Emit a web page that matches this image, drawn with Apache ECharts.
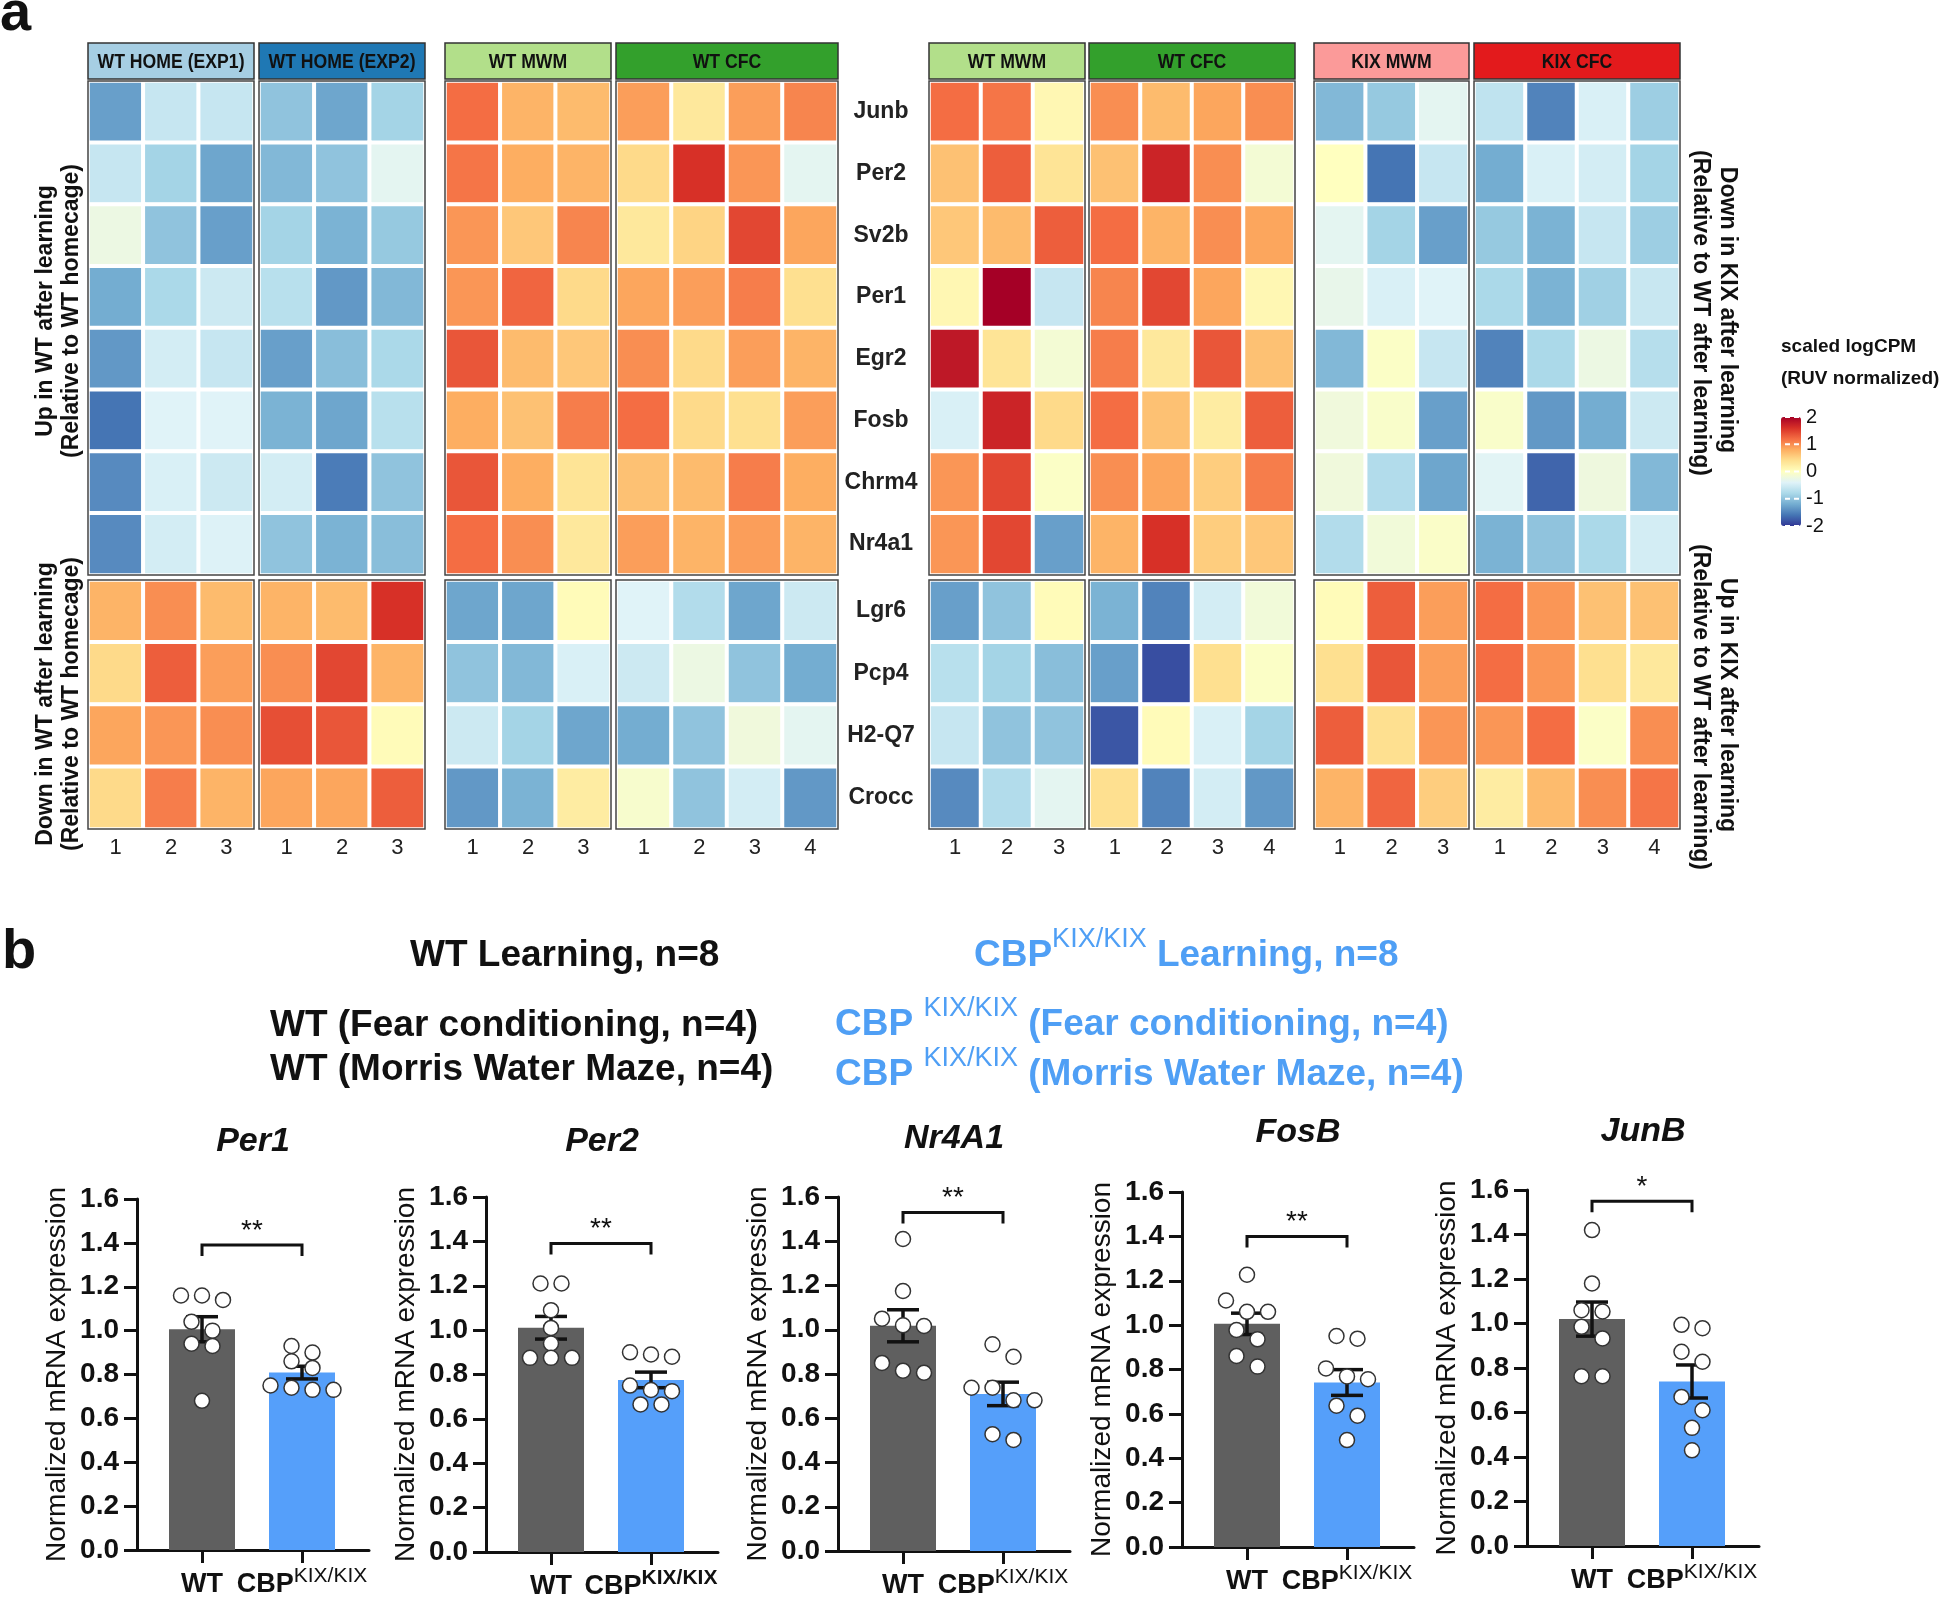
<!DOCTYPE html>
<html><head><meta charset="utf-8">
<script src="https://cdn.jsdelivr.net/npm/echarts@6/dist/echarts.min.js"></script>
<style>html,body{margin:0;padding:0;background:#fff}#c{width:1946px;height:1600px}</style>
</head><body><div id="c"></div>
<script>
// ---------------- DATA ----------------
const genesUp = ['Junb','Per2','Sv2b','Per1','Egr2','Fosb','Chrm4','Nr4a1'];
const genesDown = ['Lgr6','Pcp4','H2-Q7','Crocc'];
const samples3 = ['1','2','3'];
const samples4 = ['1','2','3','4'];
const groupNames = ['WT HOME (EXP1)','WT HOME (EXP2)','WT MWM','WT CFC','WT MWM','WT CFC','KIX MWM','KIX CFC'];
const legendTicks = [2,1,0,-1,-2];

// rows: Junb, Per2, Sv2b, Per1, Egr2, Fosb, Chrm4, Nr4a1, Lgr6, Pcp4, H2-Q7, Crocc
const wtHome1 = [
 [-1.3,-0.6,-0.6],[-0.6,-0.85,-1.25],[-0.25,-1.0,-1.3],[-1.2,-0.8,-0.55],
 [-1.35,-0.5,-0.6],[-1.6,-0.4,-0.4],[-1.45,-0.45,-0.55],[-1.45,-0.5,-0.42],
 [0.75,1.0,0.7],[0.45,1.3,0.9],[0.85,0.95,1.0],[0.45,1.1,0.75]];
const wtHome2 = [
 [-1.0,-1.25,-0.85],[-1.1,-1.0,-0.35],[-0.85,-1.15,-0.95],[-0.7,-1.35,-1.1],
 [-1.3,-1.05,-0.8],[-1.15,-1.25,-0.7],[-0.5,-1.55,-1.0],[-1.0,-1.15,-1.05],
 [0.75,0.7,1.6],[1.0,1.45,0.75],[1.4,1.35,0.05],[0.85,0.85,1.3]];
const wtMwmA = [
 [1.2,0.75,0.7],[1.15,0.8,0.75],[0.95,0.6,1.05],[0.95,1.25,0.45],
 [1.35,0.7,0.6],[0.8,0.65,1.1],[1.35,0.8,0.35],[1.2,1.0,0.3],
 [-1.25,-1.25,0.05],[-1.0,-1.1,-0.45],[-0.55,-0.85,-1.25],[-1.35,-1.15,0.25]];
const wtCfcA = [
 [0.9,0.3,0.9,1.05],[0.45,1.6,0.95,-0.35],[0.3,0.5,1.45,0.85],[0.85,0.9,1.1,0.4],
 [1.0,0.45,0.9,0.75],[1.2,0.45,0.4,0.9],[0.65,0.7,1.1,0.8],[0.9,0.75,0.9,0.75],
 [-0.4,-0.75,-1.25,-0.55],[-0.55,-0.25,-1.0,-1.2],[-1.2,-1.0,-0.2,-0.35],[-0.1,-1.0,-0.5,-1.35]];
const wtMwmB = [
 [1.2,1.15,0.1],[0.65,1.3,0.35],[0.6,0.7,1.3],[0.1,2.0,-0.6],
 [1.8,0.35,-0.15],[-0.45,1.7,0.45],[0.95,1.45,-0.05],[0.95,1.45,-1.3],
 [-1.3,-1.0,0.05],[-0.7,-0.85,-1.05],[-0.6,-1.0,-1.0],[-1.45,-0.75,-0.35]];
const wtCfcB = [
 [1.0,0.7,0.85,1.0],[0.65,1.7,1.0,-0.15],[1.2,0.75,1.0,0.85],[1.05,1.45,0.85,0.1],
 [1.1,0.3,1.35,0.65],[1.2,0.65,0.25,1.3],[1.0,0.85,0.55,1.1],[0.75,1.6,0.55,0.6],
 [-1.15,-1.5,-0.5,-0.18],[-1.3,-1.85,0.4,-0.05],[-1.8,0.05,-0.45,-0.85],[0.4,-1.5,-0.5,-1.35]];
const kixMwm = [
 [-1.1,-0.95,-0.35],[0.0,-1.6,-0.6],[-0.35,-0.85,-1.3],[-0.3,-0.45,-0.4],
 [-1.1,-0.05,-0.6],[-0.2,-0.08,-1.3],[-0.2,-0.75,-1.25],[-0.75,-0.18,-0.06],
 [0.05,1.3,0.9],[0.4,1.35,0.9],[1.3,0.4,0.95],[0.75,1.25,0.55]];
const kixCfc = [
 [-0.65,-1.5,-0.45,-0.9],[-1.2,-0.45,-0.5,-0.85],[-0.95,-1.15,-0.6,-0.9],[-0.8,-1.15,-0.88,-0.58],
 [-1.5,-0.8,-0.25,-0.72],[-0.08,-1.35,-1.2,-0.55],[-0.38,-1.7,-0.22,-1.1],[-1.15,-1.0,-0.8,-0.5],
 [1.2,0.95,0.65,0.65],[1.2,0.95,0.4,0.3],[0.95,1.2,-0.05,1.0],[0.25,0.7,1.0,1.15]];

const barGenes = ['Per1','Per2','Nr4A1','FosB','JunB'];
const barGroups = ['WT','CBP'];
const per1WT  = [1.16,1.16,1.14,1.04,1.00,0.94,0.93,0.68];
const per1KIX = [0.93,0.90,0.86,0.83,0.73,0.75,0.73,0.74];
const per2WT  = [1.21,1.21,1.09,1.01,0.94,0.875,0.875,0.875];
const per2KIX = [0.90,0.88,0.89,0.75,0.73,0.725,0.665,0.665];
const nr4a1WT  = [1.41,1.175,1.02,1.05,1.017,0.85,0.806,0.815];
const nr4a1KIX = [0.934,0.878,0.738,0.738,0.681,0.681,0.502,0.528];
const fosbWT  = [1.227,1.111,1.06,1.06,0.978,0.936,0.861,0.813];
const fosbKIX = [0.939,0.951,0.769,0.805,0.756,0.637,0.592,0.482];
const junbWT  = [1.42,1.18,1.054,1.06,0.985,0.933,0.763,0.763];
const junbKIX = [0.979,0.994,0.873,0.828,0.67,0.61,0.531,0.43];
const sigLabels = ['**','**','**','**','*'];
const bracketY = [1.39,1.39,1.53,1.40,1.55];

// ---------------- LAYOUT / STYLE ----------------
const FF = 'Liberation Sans, Arial, Helvetica, sans-serif';
const PANEL_X = [[88,254],[259,425],[445,611],[616,838],[929,1085],[1089,1295],[1314,1469],[1474,1680]];
const HEAD_COLORS = ['#a6cee3','#1f78b4','#b2df8a','#33a02c','#b2df8a','#33a02c','#fb9a99','#e31a1c'];
const BLOCK_Y = [[81,575],[580,829]];
const HEAD_Y = [43,79];
const RDYLBU = ['#313695','#4575b4','#74add1','#abd9e9','#e0f3f8','#ffffbf','#fee090','#fdae61','#f46d43','#d73027','#a50026'];
const BAR_LAYOUT = [
 {ax:137,top:1199,zero:1550,ty:1142},
 {ax:486,top:1197,zero:1552,ty:1142},
 {ax:838,top:1197,zero:1551,ty:1139},
 {ax:1182,top:1192,zero:1547,ty:1133},
 {ax:1527,top:1190,zero:1546,ty:1132}];
const BLUE = '#559ffa', GRAY = '#5f5f5f', TXTBLUE = '#4f9ff5';

const grids=[], xAxes=[], yAxes=[], series=[], graphics=[];
function T(text, x, y, size, o) {
  o = o || {};
  return {type:'text', x:x, y:y, rotation:o.rot||0, scaleX:o.sx||1, z:o.z||150, silent:true,
    style:{text:text, fill:o.color||'#111', fontSize:size, fontWeight:o.weight||'bold',
      fontStyle:o.style||'normal', fontFamily:FF, align:o.align||'center', verticalAlign:'middle', rich:o.rich}};
}

// ---------------- HEATMAPS ----------------
const hmData = [wtHome1, wtHome2, wtMwmA, wtCfcA, wtMwmB, wtCfcB, kixMwm, kixCfc];
const hmSeriesIdx = [];
hmData.forEach((mat, p) => {
  const cats = mat[0].length === 3 ? samples3 : samples4;
  const [x0, x1] = PANEL_X[p];
  [0,1].forEach(b => {
    const rows = b === 0 ? mat.slice(0, 8) : mat.slice(8);
    const genes = b === 0 ? genesUp : genesDown;
    const [y0, y1] = BLOCK_Y[b];
    const gi = grids.length;
    grids.push({left:x0, top:y0, width:x1-x0, height:y1-y0, outerBoundsMode:'none'});
    const xi = xAxes.length;
    xAxes.push({type:'category', gridIndex:gi, data:cats, axisLine:{show:false}, axisTick:{show:false},
      splitLine:{show:false}, axisLabel:{show:b===1, interval:0, fontSize:22, color:'#222', margin:8, fontFamily:FF}});
    const yi = yAxes.length;
    yAxes.push({type:'category', gridIndex:gi, data:genes, inverse:true, axisLine:{show:false}, axisTick:{show:false},
      splitLine:{show:false},
      axisLabel:{show:p===4, interval:0, align:'center', margin:48, fontSize:23, fontWeight:'bold', color:'#222', fontFamily:FF}});
    hmSeriesIdx.push(series.length);
    series.push({type:'heatmap', xAxisIndex:xi, yAxisIndex:yi, silent:true,
      data: rows.flatMap((r, ri) => r.map((v, ci) => [ci, ri, v])),
      itemStyle:{borderColor:'#fff', borderWidth:4}, emphasis:{disabled:true}});
    graphics.push({type:'rect', z:100, silent:true, shape:{x:x0, y:y0, width:x1-x0, height:y1-y0},
      style:{fill:'none', stroke:'#444', lineWidth:1.5}});
  });
  graphics.push({type:'rect', z:90, silent:true, shape:{x:x0, y:HEAD_Y[0], width:x1-x0, height:HEAD_Y[1]-HEAD_Y[0]},
    style:{fill:HEAD_COLORS[p], stroke:'#333', lineWidth:1.5}});
  graphics.push(T(groupNames[p], (x0+x1)/2, (HEAD_Y[0]+HEAD_Y[1])/2 + 1, 21, {z:160, sx:0.84}));
});

// side labels
graphics.push(T('Up in WT after learning', 46, 311, 23, {rot:Math.PI/2}));
graphics.push(T('(Relative to WT homecage)', 72, 311, 23, {rot:Math.PI/2}));
graphics.push(T('Down in WT after learning', 46, 704, 23, {rot:Math.PI/2}));
graphics.push(T('(Relative to WT homecage)', 72, 704, 23, {rot:Math.PI/2}));
graphics.push(T('Down in KIX after learning', 1727, 310, 23, {rot:-Math.PI/2}));
graphics.push(T('(Relative to WT after learning)', 1700, 313, 23, {rot:-Math.PI/2}));
graphics.push(T('Up in KIX after learning', 1727, 705, 23, {rot:-Math.PI/2}));
graphics.push(T('(Relative to WT after learning)', 1700, 707, 23, {rot:-Math.PI/2}));

// legend
const CB = {x:1781, y:413, w:20, h:117};
graphics.push(T('scaled logCPM', CB.x, 347, 19, {align:'left'}));
graphics.push(T('(RUV normalized)', CB.x, 379, 19, {align:'left'}));
legendTicks.forEach(v => {
  const yy = CB.y + 4 + (2 - v) / 4 * (CB.h - 8);
  graphics.push(T(String(v), CB.x + 25, yy, 20, {align:'left', weight:'normal'}));
  graphics.push({type:'line', z:120, silent:true, shape:{x1:CB.x+4, y1:yy, x2:CB.x+9, y2:yy}, style:{stroke:'#fff', lineWidth:2}});
  graphics.push({type:'line', z:120, silent:true, shape:{x1:CB.x+13, y1:yy, x2:CB.x+18, y2:yy}, style:{stroke:'#fff', lineWidth:2}});
});

// panel letters
graphics.push(T('a', 0, 15, 56, {align:'left'}));
graphics.push(T('b', 2, 953, 56, {align:'left'}));

// part b legend text
const supRich = (color) => ({
  a:{fontSize:37, fontWeight:'bold', fontFamily:FF, color:color, lineHeight:59},
  s:{fontSize:27, fontWeight:'normal', fontFamily:FF, color:color, lineHeight:27, verticalAlign:'top'}});
graphics.push(T('WT Learning, n=8', 410, 956, 37, {align:'left'}));
graphics.push(T('{a|CBP}{s|KIX/KIX}{a| Learning, n=8}', 974, 956, 37, {align:'left', color:TXTBLUE, rich:supRich(TXTBLUE)}));
graphics.push(T('WT (Fear conditioning, n=4)', 270, 1026, 37, {align:'left'}));
graphics.push(T('WT (Morris Water Maze, n=4)', 270, 1070, 37, {align:'left'}));
graphics.push(T('{a|CBP }{s|KIX/KIX}{a| (Fear conditioning, n=4)}', 835, 1025, 37, {align:'left', color:TXTBLUE, rich:supRich(TXTBLUE)}));
graphics.push(T('{a|CBP }{s|KIX/KIX}{a| (Morris Water Maze, n=4)}', 835, 1075, 37, {align:'left', color:TXTBLUE, rich:supRich(TXTBLUE)}));

// ---------------- BAR CHARTS ----------------
const barSets = [[per1WT, per1KIX],[per2WT, per2KIX],[nr4a1WT, nr4a1KIX],[fosbWT, fosbKIX],[junbWT, junbKIX]];
const mean = a => a.reduce((s, v) => s + v, 0) / a.length;
const sem = a => { const m = mean(a); return Math.sqrt(a.reduce((s, v) => s + (v-m)*(v-m), 0) / (a.length-1)) / Math.sqrt(a.length); };
function swarm(vals, gi, pxPerUnit) {
  const sorted = vals.slice().sort((a, b) => b - a);
  const rows = [];
  sorted.forEach(v => { const r = rows[rows.length-1]; if (r && (r[0]-v)*pxPerUnit < 14) r.push(v); else rows.push([v]); });
  const out = [];
  rows.forEach(r => r.forEach((v, i) => out.push([gi + (i - (r.length-1)/2) * 0.21, v])));
  return out;
}
function errItem(params, api) {
  const x = api.value(0), m = api.value(1), s = api.value(2);
  const t = api.coord([x, m + s]), b = api.coord([x, m - s]);
  const st = {stroke:'#111', lineWidth:3.5};
  return {type:'group', children:[
    {type:'line', shape:{x1:t[0], y1:t[1], x2:b[0], y2:b[1]}, style:st},
    {type:'line', shape:{x1:t[0]-16, y1:t[1], x2:t[0]+16, y2:t[1]}, style:st},
    {type:'line', shape:{x1:b[0]-16, y1:b[1], x2:b[0]+16, y2:b[1]}, style:st}]};
}
barSets.forEach((pair, k) => {
  const L = BAR_LAYOUT[k];
  const h = L.zero - L.top;
  const gMain = grids.length;
  grids.push({left:L.ax+15, top:L.top, width:200, height:h, outerBoundsMode:'none'});
  const gHold = grids.length;
  grids.push({left:L.ax, top:L.top, width:232, height:h, outerBoundsMode:'none'});
  const xCat = xAxes.length;
  xAxes.push({type:'category', gridIndex:gMain, data:barGroups, axisLine:{show:false, onZero:false},
    axisTick:{show:true, alignWithLabel:true, length:13, lineStyle:{color:'#111', width:3}},
    axisLabel:{interval:0, hideOverlap:false, margin:16, formatter: v => v === 'WT' ? '{a|WT}' : '{a|CBP}{s|KIX/KIX}',
      rich:{a:{fontSize:27, fontWeight:'bold', color:'#111', lineHeight:37, fontFamily:FF},
            s:{fontSize:21, fontWeight:k===1?'bold':'normal', color:'#111', lineHeight:21, verticalAlign:'top', fontFamily:FF}}}});
  const xVal = xAxes.length;
  xAxes.push({type:'value', gridIndex:gMain, min:-0.5, max:1.5, show:false, axisLine:{onZero:false}});
  const xHold = xAxes.length;
  xAxes.push({type:'value', gridIndex:gHold, min:0, max:1, axisLine:{show:true, onZero:false, lineStyle:{color:'#111', width:3}},
    axisTick:{show:false}, axisLabel:{show:false}, splitLine:{show:false}});
  const yMain = yAxes.length;
  yAxes.push({type:'value', gridIndex:gMain, min:0, max:1.6, interval:0.2, offset:15,
    axisLine:{show:true, onZero:false, lineStyle:{color:'#111', width:3}},
    axisTick:{show:true, length:13, lineStyle:{color:'#111', width:3}}, splitLine:{show:false},
    axisLabel:{formatter: v => v.toFixed(1), fontSize:28, fontWeight:'bold', color:'#111', margin:18, fontFamily:FF},
    name:'Normalized mRNA expression', nameLocation:'middle', nameGap:66, nameRotate:90,
    nameTextStyle:{fontSize:28, color:'#111', fontFamily:FF}});
  const yHold = yAxes.length;
  yAxes.push({type:'value', gridIndex:gHold, min:0, max:1, show:false, axisLine:{onZero:false}});
  series.push({type:'line', xAxisIndex:xHold, yAxisIndex:yHold, data:[], silent:true});

  const mW = mean(pair[0]), mK = mean(pair[1]);
  series.push({type:'bar', xAxisIndex:xCat, yAxisIndex:yMain, barWidth:66, silent:true, z:2,
    data:[{value:mW, itemStyle:{color:GRAY}}, {value:mK, itemStyle:{color:BLUE}}]});
  series.push({type:'custom', xAxisIndex:xCat, yAxisIndex:yMain, silent:true, z:3, renderItem:errItem,
    data:[[0, mW, sem(pair[0])], [1, mK, sem(pair[1])]]});
  const ppu = h / 1.6;
  series.push({type:'scatter', xAxisIndex:xVal, yAxisIndex:yMain, silent:true, z:4, symbolSize:15,
    itemStyle:{color:'#fff', borderColor:'#333', borderWidth:1.5, opacity:1},
    data: swarm(pair[0], 0, ppu).concat(swarm(pair[1], 1, ppu))});
  series.push({type:'custom', xAxisIndex:xCat, yAxisIndex:yMain, silent:true, z:5, clip:false,
    data:[[0, bracketY[k]]],
    renderItem: (params, api) => {
      const y = api.value(1);
      const p0 = api.coord([0, y]), p1 = api.coord([1, y]);
      return {type:'group', children:[
        {type:'polyline', shape:{points:[[p0[0], p0[1]+11],[p0[0], p0[1]],[p1[0], p1[1]],[p1[0], p1[1]+11]]},
          style:{stroke:'#111', lineWidth:3, fill:'none'}},
        {type:'text', style:{text:sigLabels[k], x:(p0[0]+p1[0])/2, y:p0[1]-14, align:'center', verticalAlign:'middle',
          fontSize:28, fontFamily:FF, fill:'#111'}}]};
    }});
  graphics.push(T(barGenes[k], L.ax + 116, L.ty, 34, {style:'italic'}));
});

const chart = echarts.init(document.getElementById('c'), null, {renderer:'canvas'});
chart.setOption({
  animation:false,
  backgroundColor:'#fff',
  textStyle:{fontFamily:FF},
  grid:grids, xAxis:xAxes, yAxis:yAxes, series:series,
  visualMap:{type:'continuous', min:-2, max:2, calculable:false, seriesIndex:hmSeriesIdx, dimension:2,
    inRange:{color:RDYLBU}, left:CB.x, top:CB.y + 4, itemWidth:CB.w, itemHeight:CB.h - 8, padding:0, text:null, hoverLink:false},
  graphic:{elements:graphics}
});
</script></body></html>
